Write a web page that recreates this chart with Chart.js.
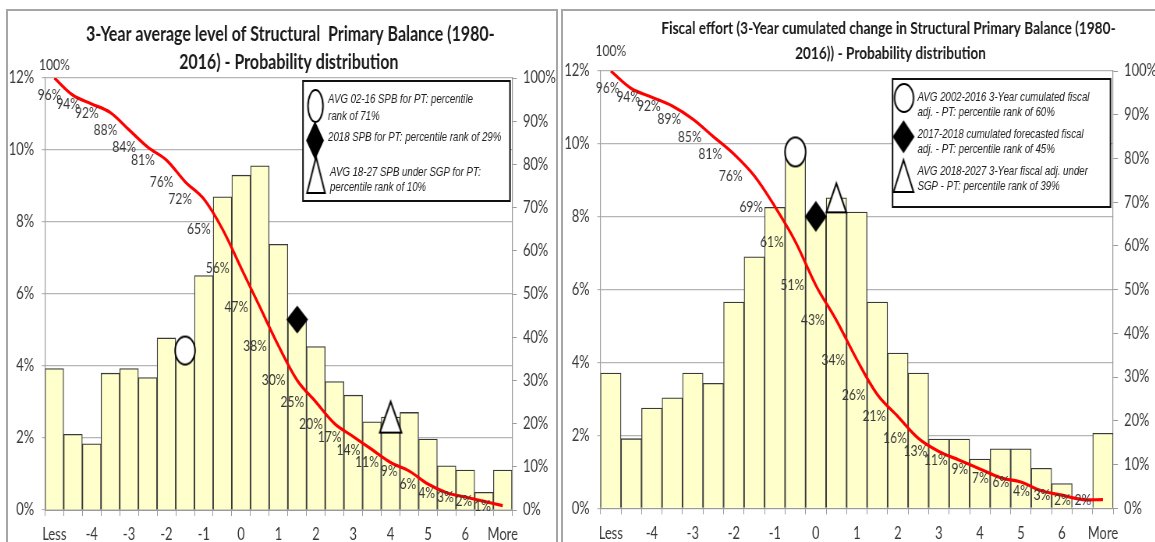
<!DOCTYPE html>
<html>
<head>
<meta charset="utf-8">
<script src="https://cdn.jsdelivr.net/npm/chart.js@4.4.0/dist/chart.umd.min.js"></script>
<style>
  html, body { margin: 0; padding: 0; background: #fff; overflow: hidden; width: 1155px; height: 542px; }
  .panel { position: absolute; border: 2px solid #a6a6a6; box-sizing: border-box; }
  .wrap { position: absolute; transform-origin: 0 0; }
  canvas { display: block; }
</style>
</head>
<body>
<div class="panel" style="left:6px;top:9px;width:552px;height:560px"></div>
<div class="panel" style="left:561px;top:9px;width:600px;height:560px"></div>
<div class="wrap" id="wrapLevel" style="left:8px;top:11px"><canvas id="levelChart"></canvas></div>
<div class="wrap" id="wrapEffort" style="left:563.5px;top:11px"><canvas id="effortChart"></canvas></div>

<script>
// Histogram bins (percentage points of GDP), shared by both panels
const binLabels = ['Less', '-4.5', '-4', '-3.5', '-3', '-2.5', '-2', '-1.5', '-1', '-0.5', '0', '0.5',
                   '1', '1.5', '2', '2.5', '3', '3.5', '4', '4.5', '5', '5.5', '6', '6.5', 'More'];

// Left panel: 3-year average level of the structural primary balance
const levelFreq = [3.93, 2.10, 1.84, 3.80, 3.93, 3.68, 4.78, 4.43, 6.51, 8.70, 9.30, 9.56, 7.38,
                   5.29, 4.54, 3.57, 3.19, 2.45, 2.58, 2.71, 1.97, 1.23, 1.11, 0.49, 1.11];
const levelCum = [100, 96, 94, 92, 88, 84, 81, 76, 72, 65, 56, 47, 38, 30, 25, 20, 17, 14, 11, 9, 6, 4, 3, 2, 1];
const levelMarkerBins = ['-1.5', '1.5', '4'];
const levelTitle = ['3-Year average level of Structural  Primary Balance (1980-', '2016) - Probability distribution'];
const levelNotes = [
  ['AVG 02-16 SPB for PT: percentile', 'rank of 71%'],
  ['2018 SPB for PT: percentile rank of 29%'],
  ['AVG 18-27 SPB under SGP for PT:', 'percentile rank of 10%']
];

// Right panel: fiscal effort (3-year cumulated change in the structural primary balance)
const effortFreq = [3.71, 1.91, 2.75, 3.03, 3.71, 3.43, 5.66, 6.90, 8.26, 9.78, 8.01, 8.52, 8.13,
                    5.66, 4.26, 3.71, 1.90, 1.90, 1.35, 1.63, 1.63, 1.10, 0.68, 0, 2.06];
const effortCum = [100, 96, 94, 92, 89, 85, 81, 76, 69, 61, 51, 43, 34, 26, 21, 16, 13, 11, 9, 7, 6, 4, 3, 2, 2];
const effortMarkerBins = ['-0.5', '0', '0.5'];
const effortTitle = ['Fiscal effort (3-Year cumulated change in Structural Primary Balance (1980-', '2016)) - Probability distribution'];
const effortNotes = [
  ['AVG 2002-2016 3-Year cumulated fiscal', 'adj. - PT: percentile rank of 60%'],
  ['2017-2018 cumulated forecasted fiscal', 'adj. - PT: percentile rank of 45%'],
  ['AVG 2018-2027 3-Year fiscal adj. under', 'SGP - PT: percentile rank of 39%']
];

// Axis ranges
const freqAxis = { min: 0, max: 12, step: 2 };
const cumAxis = { min: 0, max: 100, step: 10 };

// Horizontal squeeze applied to each canvas (narrow, condensed look)
const SQUEEZE = 0.78;
const FONT = 'Lato, "Liberation Sans", sans-serif';
const NOTE_FONT = 'italic 12.4px "Liberation Sans", Arial, sans-serif';
const TEXT = '#383838';

// Marker glyphs used as point styles and in the note boxes
function shapeImage(kind, w, h) {
  const c = document.createElement('canvas');
  const pad = 3;
  c.width = Math.ceil(w + pad * 2);
  c.height = Math.ceil(h + pad * 2);
  const g = c.getContext('2d');
  const cx = c.width / 2, cy = c.height / 2;
  g.lineWidth = 2;
  g.strokeStyle = '#000';
  g.fillStyle = '#fff';
  g.beginPath();
  if (kind === 'ellipse') {
    g.ellipse(cx, cy, w / 2, h / 2, 0, 0, Math.PI * 2);
  } else if (kind === 'diamond') {
    g.moveTo(cx, cy - h / 2); g.lineTo(cx + w / 2, cy); g.lineTo(cx, cy + h / 2); g.lineTo(cx - w / 2, cy);
    g.closePath();
    g.fillStyle = '#000';
  } else {
    g.moveTo(cx, cy - h / 2); g.lineTo(cx + w / 2, cy + h / 2); g.lineTo(cx - w / 2, cy + h / 2);
    g.closePath();
  }
  g.fill();
  g.stroke();
  return c;
}

// Two-line centred title
const titlePlugin = {
  id: 'panelTitle',
  afterDraw(chart, args, o) {
    const ctx = chart.ctx;
    ctx.save();
    ctx.font = 'bold ' + o.size + 'px ' + FONT;
    ctx.fillStyle = '#1a1a1a';
    ctx.textAlign = 'center';
    ctx.textBaseline = 'middle';
    o.lines.forEach((t, i) => ctx.fillText(t, o.x[i], o.y[i]));
    ctx.restore();
  }
};

// Percent labels on the cumulative curve
const cumLabelPlugin = {
  id: 'cumLabels',
  afterDatasetsDraw(chart, args, o) {
    const meta = chart.getDatasetMeta(o.datasetIndex);
    const values = chart.data.datasets[o.datasetIndex].data;
    const ctx = chart.ctx;
    ctx.save();
    ctx.font = o.size + 'px ' + FONT;
    ctx.fillStyle = TEXT;
    meta.data.forEach((pt, i) => {
      const txt = values[i] + '%';
      if (i === 0) {
        ctx.textAlign = 'center';
        ctx.textBaseline = 'bottom';
        ctx.fillText(txt, pt.x, pt.y - o.aboveGap);
      } else {
        ctx.textAlign = 'right';
        ctx.textBaseline = 'middle';
        ctx.fillText(txt, pt.x - o.leftGap, pt.y);
      }
    });
    ctx.restore();
  }
};

// Boxed notes explaining the three markers
const notesPlugin = {
  id: 'markerNotes',
  afterDraw(chart, args, o) {
    const ctx = chart.ctx;
    ctx.save();
    const b = o.box;
    ctx.fillStyle = '#fff';
    ctx.fillRect(b.x0, b.y0, b.x1 - b.x0, b.y1 - b.y0);
    ctx.lineWidth = 2;
    ctx.strokeStyle = '#111';
    ctx.strokeRect(b.x0, b.y0, b.x1 - b.x0, b.y1 - b.y0);
    o.items.forEach((it, i) => {
      const img = shapeImage(it.kind, it.w, it.h);
      ctx.drawImage(img, it.cx - img.width / 2, it.cy - img.height / 2);
      ctx.font = NOTE_FONT;
      ctx.fillStyle = '#222';
      ctx.textAlign = 'left';
      ctx.textBaseline = 'middle';
      o.notes[i].forEach((line, j) => ctx.fillText(line, it.tx, it.ty[j]));
    });
    ctx.restore();
  }
};

function buildChart(id, wrapId, g, freq, cum, markerBins, title, notes) {
  const wrap = document.getElementById(wrapId);
  wrap.style.transform = 'scaleX(' + SQUEEZE + ')';
  const canvas = document.getElementById(id);
  canvas.width = g.width;
  canvas.height = g.height;
  canvas.style.width = g.width + 'px';
  canvas.style.height = g.height + 'px';

  const kinds = ['ellipse', 'diamond', 'triangle'];
  const markerSets = markerBins.map((bin, k) => ({
    type: 'line',
    label: 'marker' + k,
    data: [{ x: bin, y: freq[binLabels.indexOf(bin)] }],
    yAxisID: 'y',
    showLine: false,
    pointStyle: shapeImage(kinds[k], g.markers[k][0], g.markers[k][1]),
    pointRadius: 10,
    order: 1
  }));

  const tickFont = { family: FONT, size: 16.5 };

  return new Chart(canvas, {
    type: 'bar',
    data: {
      labels: binLabels,
      datasets: [
        {
          type: 'bar',
          label: 'Frequency',
          data: freq,
          yAxisID: 'y',
          backgroundColor: '#FFFFCC',
          borderColor: '#3a3a3a',
          borderWidth: 1.3,
          categoryPercentage: 1,
          barPercentage: 1,
          order: 3
        },
        {
          type: 'line',
          label: 'Cumulative',
          data: cum,
          yAxisID: 'y2',
          borderColor: '#FF0000',
          borderWidth: 3.2,
          pointRadius: 0,
          tension: 0.35,
          fill: false,
          order: 2
        },
        ...markerSets
      ]
    },
    options: {
      responsive: false,
      animation: false,
      devicePixelRatio: 1,
      layout: { padding: { top: g.top, left: 0, right: 0, bottom: 0 } },
      plugins: {
        legend: { display: false },
        tooltip: { enabled: false },
        panelTitle: { lines: title, x: g.titleX, y: g.titleY, size: g.titleSize },
        cumLabels: { datasetIndex: 1, size: 15.5, leftGap: 15, aboveGap: g.topLabelGap },
        markerNotes: { box: g.box, items: g.noteItems, notes: notes }
      },
      scales: {
        x: {
          type: 'category',
          offset: true,
          grid: { offset: true, drawOnChartArea: false, drawTicks: true, tickLength: 6, color: '#9a9a9a' },
          border: { color: '#9a9a9a', width: 1 },
          ticks: {
            autoSkip: false,
            maxRotation: 0,
            padding: 9,
            color: TEXT,
            font: tickFont,
            callback(value, index) { return index % 2 === 0 ? this.getLabelForValue(value) : ''; }
          },
          afterFit(scale) { scale.height = g.xAxisH; }
        },
        y: {
          position: 'left',
          min: freqAxis.min,
          max: freqAxis.max,
          grid: { color: '#b5b5b5', lineWidth: 1.2, drawTicks: true, tickLength: 4 },
          border: { color: '#9a9a9a', width: 1.2 },
          ticks: {
            stepSize: freqAxis.step,
            padding: 10,
            color: TEXT,
            font: tickFont,
            callback: v => v + '%'
          },
          afterFit(scale) { scale.width = g.axisL; }
        },
        y2: {
          position: 'right',
          min: cumAxis.min,
          max: cumAxis.max,
          grid: { drawOnChartArea: false, drawTicks: true, tickLength: 6, color: '#9a9a9a' },
          border: { color: '#9a9a9a', width: 1.2 },
          ticks: {
            stepSize: cumAxis.step,
            padding: 8,
            color: TEXT,
            font: tickFont,
            callback: v => v + '%'
          },
          afterFit(scale) { scale.width = g.axisR; }
        }
      }
    },
    plugins: [titlePlugin, cumLabelPlugin, notesPlugin]
  });
}

// Panel geometry (canvas units, before the horizontal squeeze)
const levelGeom = {
  width: 703, height: 534, top: 67, xAxisH: 35, axisL: 47.4, axisR: 56.8,
  titleX: [362, 360], titleY: [23, 51], titleSize: 20.5, topLabelGap: 5,
  markers: [[25.6, 28], [25, 25], [27.8, 31]],
  box: { x0: 378.2, y0: 70, x1: 643.6, y1: 190 },
  noteItems: [
    { kind: 'ellipse', cx: 394.2, cy: 95, w: 19.2, h: 32, tx: 410.3, ty: [89, 106] },
    { kind: 'diamond', cx: 393.6, cy: 129.5, w: 20.5, h: 35, tx: 410.3, ty: [127] },
    { kind: 'triangle', cx: 394.9, cy: 164, w: 23, h: 36, tx: 412.8, ty: [162, 177] }
  ]
};
const effortGeom = {
  width: 761, height: 534, top: 60, xAxisH: 36.7, axisL: 46.8, axisR: 56.9,
  titleX: [416, 418.6], titleY: [17, 42], titleSize: 17.5, topLabelGap: 12,
  markers: [[26.5, 29], [25.6, 28], [25.6, 29]],
  box: { x0: 421.2, y0: 68, x1: 700.6, y1: 196 },
  noteItems: [
    { kind: 'ellipse', cx: 435.9, cy: 87, w: 24.4, h: 28, tx: 453.2, ty: [87, 102] },
    { kind: 'diamond', cx: 435.3, cy: 125.7, w: 25.6, h: 30, tx: 453.2, ty: [124, 139] },
    { kind: 'triangle', cx: 435.3, cy: 165, w: 25.6, h: 32, tx: 453.2, ty: [161, 176] }
  ]
};

buildChart('levelChart', 'wrapLevel', levelGeom, levelFreq, levelCum, levelMarkerBins, levelTitle, levelNotes);
buildChart('effortChart', 'wrapEffort', effortGeom, effortFreq, effortCum, effortMarkerBins, effortTitle, effortNotes);
</script>
</body>
</html>
